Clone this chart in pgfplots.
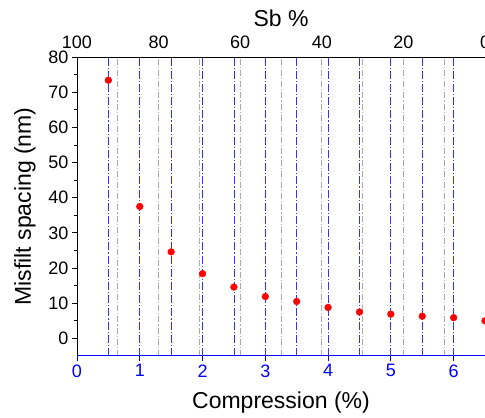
\documentclass[border=0pt]{standalone}
\usepackage{fontspec}
\setmainfont{Liberation Sans}
\usepackage{pgfplots}
\pgfplotsset{compat=1.18}
\usetikzlibrary{calc}
\definecolor{orblue}{RGB}{0,0,255}
\definecolor{orred}{RGB}{255,0,0}
\definecolor{gridblue}{RGB}{50,50,255}
\definecolor{gridgray}{RGB}{170,170,170}
\begin{document}
\begin{tikzpicture}
\pgfplotsset{
  every axis/.append style={
    scale only axis, width=408bp, height=299bp,
    /pgf/number format/assume math mode=true,
    tick label style={font=\fontsize{18bp}{20bp}\selectfont},
    label style={font=\fontsize{23bp}{26bp}\selectfont},
  },
  bl/.style={gridblue, line width=0.75bp, dash pattern=on 8bp off 2bp on 1.2bp off 2bp},
  gl/.style={gridgray, line width=0.75bp, dash pattern=on 6bp off 2bp on 1.2bp off 2bp},
}
% top axis: Sb %
\begin{axis}[name=top,
  xmin=0, xmax=100, x dir=reverse,
  ymin=-5, ymax=80,
  axis x line*=top, axis y line=none,
  xtick={0,20,...,100},
  major tick length=0pt,
  x axis line style={black, line width=0.8bp},
  xlabel={Sb \%},
  xlabel style={at={(axis description cs:0.5,1.1304)}, anchor=center},
  xticklabel style={yshift=5bp},
]
\addplot[gl] coordinates {(90,-5) (90,80)};
\addplot[gl] coordinates {(80,-5) (80,80)};
\addplot[gl] coordinates {(70,-5) (70,80)};
\addplot[gl] coordinates {(60,-5) (60,80)};
\addplot[gl] coordinates {(50,-5) (50,80)};
\addplot[gl] coordinates {(40,-5) (40,80)};
\addplot[gl] coordinates {(30,-5) (30,80)};
\addplot[gl] coordinates {(20,-5) (20,80)};
\addplot[gl] coordinates {(10,-5) (10,80)};
\end{axis}
% black ticks along the top edge
\begin{axis}[
  xmin=0, xmax=6.5, ymin=-5, ymax=80,
  axis x line*=top, axis y line=none,
  xtick={0.5,1,1.5,2,2.5,3,3.5,4,4.5,5,5.5,6}, xticklabels={},
  tick align=inside, major tick length=5bp,
  xtick style={black, line width=0.8bp},
  x axis line style={black, line width=0.8bp},
]
\addplot[draw=none] coordinates {(1,0)};
\end{axis}
% main axis
\begin{axis}[name=main,
  xmin=0, xmax=6.5, ymin=-5, ymax=80,
  axis x line*=bottom, axis y line*=left,
  xtick={0,...,6},
  ytick={0,10,...,80},
  minor y tick num=1,
  tick align=outside,
  major tick length=5bp, minor tick length=3bp,
  x axis line style={orblue, line width=1bp},
  y axis line style={black, line width=0.8bp},
  xtick style={orblue, line width=0.8bp},
  ytick style={black, line width=0.8bp},
  xticklabel style={orblue},
  xlabel={Compression (\%)},
  ylabel={Misfilt spacing (nm)},
  xlabel style={at={(axis description cs:0.5,-0.157)}, anchor=center},
  ylabel style={at={(axis description cs:-0.1275,0.5)}, anchor=center},
  clip=false,
]
\coordinate (bl) at (rel axis cs:0,0);
\coordinate (tr) at (rel axis cs:1,1);
\addplot[bl] coordinates {(0.5,-5) (0.5,80)};
\addplot[bl] coordinates {(1.0,-5) (1.0,80)};
\addplot[bl] coordinates {(1.5,-5) (1.5,80)};
\addplot[bl] coordinates {(2.0,-5) (2.0,80)};
\addplot[bl] coordinates {(2.5,-5) (2.5,80)};
\addplot[bl] coordinates {(3.0,-5) (3.0,80)};
\addplot[bl] coordinates {(3.5,-5) (3.5,80)};
\addplot[bl] coordinates {(4.0,-5) (4.0,80)};
\addplot[bl] coordinates {(4.5,-5) (4.5,80)};
\addplot[bl] coordinates {(5.0,-5) (5.0,80)};
\addplot[bl] coordinates {(5.5,-5) (5.5,80)};
\addplot[bl] coordinates {(6.0,-5) (6.0,80)};
\addplot[only marks, mark=*, mark size=3.4bp, color=orred, mark options={draw=orred, fill=orred}] coordinates {
  (0.5,73.4) (1.0,37.5) (1.5,24.6) (2.0,18.4) (2.5,14.6) (3.0,11.9)
  (3.5,10.5) (4.0,8.8) (4.5,7.5) (5.0,6.9) (5.5,6.3) (6.0,5.9) (6.5,5.0)
};
\end{axis}
\pgfresetboundingbox
\path[use as bounding box] ($(bl)+(-77bp,-62bp)$) rectangle ($(tr)+(0,57bp)$);
\end{tikzpicture}
\end{document}
